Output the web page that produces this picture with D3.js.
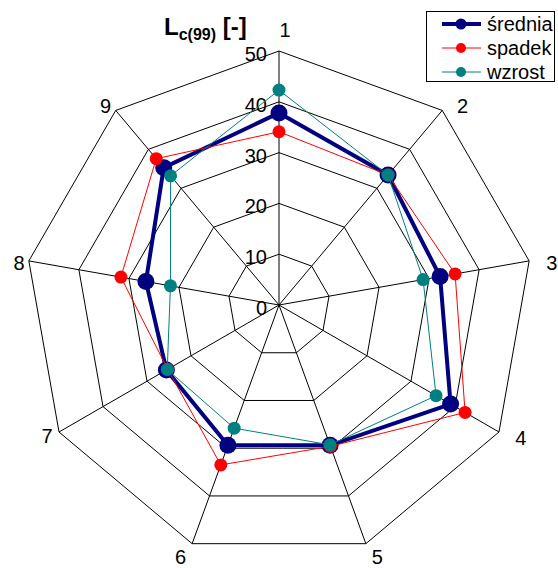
<!DOCTYPE html>
<html><head><meta charset="utf-8">
<script src="https://cdn.jsdelivr.net/npm/d3@7"></script>
<style>body{margin:0;background:#fff}svg{display:block;font-family:"Liberation Sans",Arial,sans-serif}</style>
</head><body><svg id="c" width="558" height="568"></svg>
<script>
const categories = ["1","2","3","4","5","6","7","8","9"];
const srednia = [37.8, 33.4, 32.2, 39.0, 29.4, 29.4, 25.6, 26.6, 35.3];
const spadek  = [34.1, 33.4, 35.2, 42.3, 29.6, 33.5, 25.3, 31.6, 37.6];
const wzrost  = [42.3, 33.4, 28.8, 35.7, 29.3, 25.8, 25.4, 21.7, 33.2];
const tickValues = [0, 10, 20, 30, 40, 50];
const seriesNames = ["średnia", "spadek", "wzrost"];

// label nudges (layout only)
const labelDx = [6, 10, 7, 8, 6, -6, 2, 6, 0];
const labelDy = [-5, 8, 5, -2, -2, -2, -4, 5, 8];

const svg = d3.select("#c");
const cx = 279, cy = 305, R = 254;
const r = d3.scaleLinear().domain([0, 50]).range([0, R]);
const ang = d3.scalePoint().domain(categories).range([0, 2*Math.PI*(categories.length-1)/categories.length]);
const pt = (c, v) => [cx + r(v)*Math.sin(ang(c)), cy - r(v)*Math.cos(ang(c))];

const g = svg.append("g");
tickValues.slice(1).forEach(t => {
  g.append("path")
    .attr("d", d3.line()(categories.map(c => pt(c, t))) + "Z")
    .attr("fill", "none").attr("stroke", "#000").attr("stroke-width", 1);
});
categories.forEach(c => {
  const p = pt(c, 50);
  g.append("line").attr("x1", cx).attr("y1", cy).attr("x2", p[0]).attr("y2", p[1])
    .attr("stroke", "#000").attr("stroke-width", 1);
});
tickValues.forEach(t => {
  svg.append("text").attr("x", cx - 12).attr("y", cy - r(t) + 3)
    .attr("text-anchor", "end").attr("dominant-baseline", "central")
    .attr("font-size", 20).text(t);
});
categories.forEach((c, i) => {
  const a = ang(c), s = Math.sin(a), co = Math.cos(a);
  const rr = 270;
  svg.append("text")
    .attr("x", cx + rr*s + labelDx[i])
    .attr("y", cy - rr*co + labelDy[i])
    .attr("text-anchor", "middle").attr("dominant-baseline", "central")
    .attr("font-size", 20).text(c);
});

const series = [
  {name: seriesNames[0], values: srednia, color: "#000080", width: 4, rad: 8.5},
  {name: seriesNames[1], values: spadek, color: "#FF0000", width: 1, rad: 6.5},
  {name: seriesNames[2], values: wzrost, color: "#008080", width: 1, rad: 6.5}
];
const line = d3.line();
series.forEach(s => {
  const pts = categories.map((c, i) => pt(c, s.values[i]));
  svg.append("path").attr("d", line(pts) + "Z").attr("fill", "none")
    .attr("stroke", s.color).attr("stroke-width", s.width).attr("stroke-linejoin", "miter");
  svg.append("g").selectAll("circle").data(pts).join("circle")
    .attr("cx", d => d[0]).attr("cy", d => d[1]).attr("r", s.rad).attr("fill", s.color);
});

const tt = svg.append("text").attr("x", 164).attr("y", 35).attr("font-weight", "bold").attr("font-size", 24);
tt.append("tspan").text("L");
tt.append("tspan").attr("font-size", 16).attr("dy", 5).text("c(99)");
tt.append("tspan").attr("dy", -5).text(" [-]");

const lg = svg.append("g");
lg.append("rect").attr("x", 426.5).attr("y", 11.5).attr("width", 128).attr("height", 70)
  .attr("fill", "#fff").attr("stroke", "#000").attr("stroke-width", 1);
series.forEach((s, i) => {
  const y = 24 + i*24;
  lg.append("line").attr("x1", 442).attr("x2", 481).attr("y1", y).attr("y2", y)
    .attr("stroke", s.color).attr("stroke-width", s.width);
  lg.append("circle").attr("cx", 461).attr("cy", y).attr("r", i === 0 ? 5.5 : 5).attr("fill", s.color);
  lg.append("text").attr("x", 487).attr("y", y).attr("dominant-baseline", "central")
    .attr("font-size", 20).text(s.name);
});
</script></body></html>
